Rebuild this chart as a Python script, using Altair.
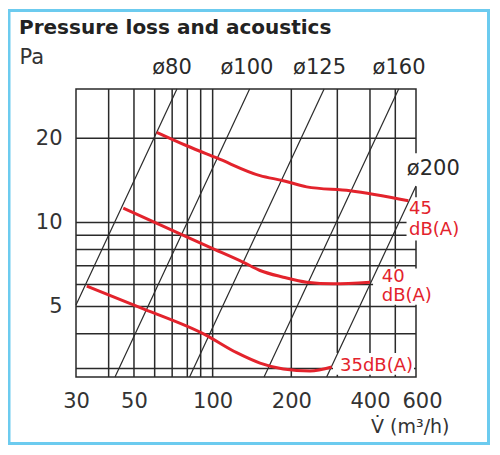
import altair as alt
import pandas as pd

FONT = "DejaVu Sans"
INK = "#2a2a2a"
RED = "#e3232c"
BLUE = "#6ccbef"

# duct diameter lines: pressure loss grows with V², so they are straight on log-log
duct_names = ["ø80", "ø100", "ø125", "ø160", "ø200"]
duct_v_start = [30, 42.3, 81.6, 157.3, 273]
duct_p_start = [5.07, 2.8, 2.8, 2.8, 2.8]
duct_v_end = [73, 138.5, 267, 515, 600]
duct_p_end = [30, 30, 30, 30, 13.5]

# sound level curves
db45_v = [61.1, 79.6, 103.7, 151.8, 186.4, 229, 335.5, 560.9]
db45_p = [21.0, 18.8, 17.0, 14.7, 14.1, 13.4, 12.98, 11.95]
db40_v = [45.5, 72.9, 97.7, 131.1, 151.8, 186.4, 229, 289.6, 400]
db40_p = [11.25, 9.21, 8.14, 7.2, 6.73, 6.37, 6.11, 6.03, 6.11]
db35_v = [33.0, 54.3, 93.5, 123.6, 151.8, 186.4, 235.8, 285.6]
db35_p = [5.92, 4.91, 3.97, 3.42, 3.14, 2.99, 2.94, 3.04]

grid_v = [40, 50, 60, 70, 80, 90, 100, 200, 300, 400, 500]
grid_p = [3, 4, 5, 6, 7, 8, 9, 10, 20]
x_ticks = [30, 50, 100, 200, 400, 600]
y_ticks = [5, 10, 20]

# diameter captions (centre of text)
diam_text = ["ø80", "ø100", "ø125", "ø160", "ø200"]
diam_v = [69.9, 135.3, 256.5, 516.8, 699]
diam_p = [35.6, 35.6, 35.6, 35.6, 15.5]

# sound level captions (left edge of text)
level_text = ["45", "dB(A)", "40", "dB(A)", "35dB(A)"]
level_v = [564.5, 564.5, 443.6, 443.6, 307.2]
level_p = [11.17, 9.39, 6.38, 5.45, 3.07]

# white boxes behind the captions that sit on the grid
box_v_lo = [540, 552, 411, 288.8]
box_v_hi = [900, 885, 703, 589.6]
box_p_lo = [13.45, 8.62, 5.08, 2.85]
box_p_hi = [17.67, 12.31, 6.84, 3.41]

x_scale = alt.Scale(type="log", domain=[30, 600], nice=False)
y_scale = alt.Scale(type="log", domain=[2.8, 30], nice=False)

x_axis = alt.Axis(
    values=x_ticks,
    format="d",
    grid=False,
    ticks=False,
    domain=False,
    labelFont=FONT,
    labelFontSize=21,
    labelColor="#333",
    labelPadding=13,
    labelOverlap=False,
    labelFlush=False,
    # the last label sits a little right of its grid line
    labelOffset={"condition": {"test": "datum.value == 600", "value": 6}, "value": 0},
    title="V̇ (m³/h)",
    titleFont=FONT,
    titleFontSize=19,
    titleFontWeight="normal",
    titleColor="#333",
    titleX=373,
    titleY=55,
    titleAlign="right",
    titleBaseline="alphabetic",
)

y_axis = alt.Axis(
    values=y_ticks,
    format="d",
    grid=False,
    ticks=False,
    domain=False,
    labelFont=FONT,
    labelFontSize=21,
    labelColor="#333",
    labelPadding=14,
    labelOverlap=False,
    labelFlush=False,
    title="Pa",
    titleFont=FONT,
    titleFontSize=21,
    titleFontWeight="normal",
    titleColor="#333",
    titleAngle=0,
    titleX=-57,
    titleY=-26,
    titleAlign="left",
    titleBaseline="alphabetic",
)


def x_enc(field: str) -> alt.X:
    return alt.X(field, type="quantitative", scale=x_scale, axis=x_axis)


def y_enc(field: str) -> alt.Y:
    return alt.Y(field, type="quantitative", scale=y_scale, axis=y_axis)


duct_rows = []
for name, v0, p0, v1, p1 in zip(duct_names, duct_v_start, duct_p_start, duct_v_end, duct_p_end):
    duct_rows.append({"duct": name, "v": v0, "p": p0})
    duct_rows.append({"duct": name, "v": v1, "p": p1})
ducts = pd.DataFrame(duct_rows)

curves = pd.concat(
    [
        pd.DataFrame({"level": "45", "v": db45_v, "p": db45_p}),
        pd.DataFrame({"level": "40", "v": db40_v, "p": db40_p}),
        pd.DataFrame({"level": "35", "v": db35_v, "p": db35_p}),
    ],
    ignore_index=True,
)

border = (
    alt.Chart(pd.DataFrame({"k": [0]}))
    .mark_rect(fillOpacity=0, stroke=BLUE, strokeWidth=3)
    .encode(x=alt.value(-67), x2=alt.value(412.5), y=alt.value(-78.5), y2=alt.value(354.5))
)

vertical_grid = (
    alt.Chart(pd.DataFrame({"v": grid_v}))
    .mark_rule(color=INK, strokeWidth=1.5)
    .encode(x=x_enc("v"))
)

horizontal_grid = (
    alt.Chart(pd.DataFrame({"p": grid_p}))
    .mark_rule(color=INK, strokeWidth=1.5)
    .encode(y=y_enc("p"))
)

boxes = (
    alt.Chart(pd.DataFrame({"v0": box_v_lo, "v1": box_v_hi, "p0": box_p_lo, "p1": box_p_hi}))
    .mark_rect(color="white")
    .encode(x=x_enc("v0"), x2="v1:Q", y=y_enc("p0"), y2="p1:Q")
)

duct_lines = (
    alt.Chart(ducts)
    .mark_line(color=INK, strokeWidth=1.2)
    .encode(x=x_enc("v"), y=y_enc("p"), detail="duct:N")
)

level_lines = (
    alt.Chart(curves)
    .mark_line(color=RED, strokeWidth=3, interpolate="monotone")
    .encode(x=x_enc("v"), y=y_enc("p"), detail="level:N")
)

diam_labels = (
    alt.Chart(pd.DataFrame({"t": diam_text, "v": diam_v, "p": diam_p}))
    .mark_text(font=FONT, fontSize=21, color=INK, align="center", baseline="middle")
    .encode(x=x_enc("v"), y=y_enc("p"), text="t:N")
)

level_labels = (
    alt.Chart(pd.DataFrame({"t": level_text, "v": level_v, "p": level_p}))
    .mark_text(font=FONT, fontSize=18, color=RED, align="left", baseline="middle")
    .encode(x=x_enc("v"), y=y_enc("p"), text="t:N")
)

heading = (
    alt.Chart(pd.DataFrame({"t": ["Pressure loss and acoustics"]}))
    .mark_text(font=FONT, fontSize=20, fontWeight="bold", color="#222", align="left", baseline="alphabetic")
    .encode(x=alt.value(-57), y=alt.value(-55), text="t:N")
)

chart = (
    alt.layer(
        border,
        vertical_grid,
        horizontal_grid,
        boxes,
        duct_lines,
        level_lines,
        diam_labels,
        level_labels,
        heading,
    )
    .properties(
        width=340,
        height=288,
        padding={"left": 68, "top": 81, "right": 76, "bottom": 70},
        autosize=alt.AutoSizeParams(type="none"),
        background="white",
    )
    .configure_view(stroke=INK, strokeWidth=1.5)
)

chart.save("out.html", embed_options={"renderer": "svg", "actions": False})
